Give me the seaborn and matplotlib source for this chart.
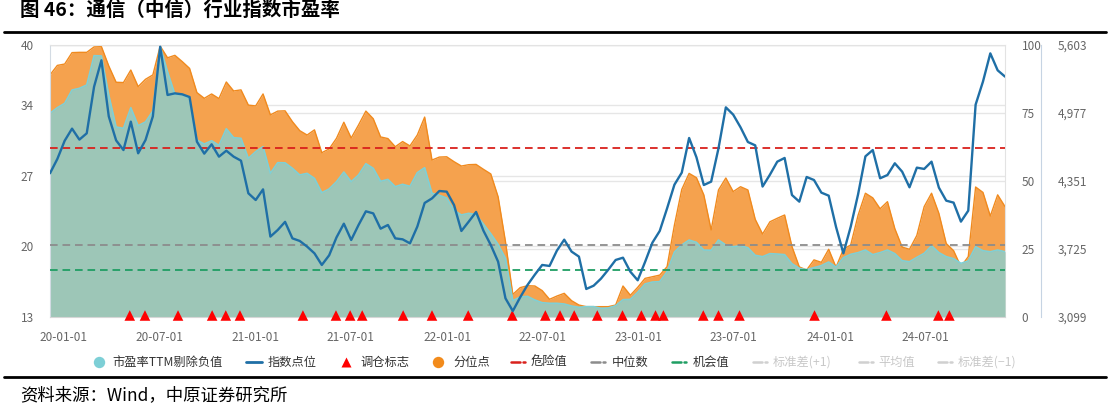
import numpy as np
import pandas as pd
import matplotlib
matplotlib.use('Agg')
import matplotlib.pyplot as plt
import matplotlib.dates as mdates
from matplotlib.lines import Line2D
import seaborn as sns

# ---------------- data ----------------
dates = pd.date_range('2019-12-06', periods=131, freq='14D')

pe_ttm = [33.22, 33.78, 34.21, 35.53, 35.70, 36.03, 38.94, 38.91, 35.04, 31.86,
          31.73, 33.78, 31.99, 32.36, 33.45, 39.84, 37.35, 35.10, 35.10, 34.71,
          30.57, 30.17, 30.50, 30.04, 31.69, 30.80, 30.74, 28.75, 29.41, 29.91,
          27.26, 28.32, 28.30, 27.76, 27.10, 27.26, 26.76, 25.34, 25.71, 26.43,
          27.39, 26.43, 27.10, 28.22, 27.76, 26.47, 26.66, 25.94, 26.17, 25.97,
          27.33, 27.82, 25.28, 25.08, 24.81, 23.59, 23.13, 23.29, 23.16, 22.23,
          21.27, 20.21, 18.82, 14.62, 14.99, 15.05, 14.69, 14.42, 14.36, 14.36,
          14.29, 14.09, 13.96, 14.03, 14.03, 13.86, 13.89, 14.12, 14.72, 14.75,
          15.45, 16.28, 16.47, 16.51, 17.50, 19.45, 20.15, 20.64, 20.41, 19.65,
          19.62, 20.64, 20.15, 19.98, 20.08, 19.88, 19.12, 18.99, 19.29, 19.25,
          19.19, 18.29, 17.83, 17.70, 17.90, 18.10, 18.46, 17.96, 18.89, 19.22,
          19.39, 19.65, 19.19, 19.39, 19.65, 19.29, 18.59, 18.49, 18.92, 19.32,
          20.08, 19.39, 18.99, 18.79, 18.33, 18.56, 19.98, 19.58, 19.48, 19.65,
          19.48]

percentile = [89.0, 92.5, 93.0, 97.2, 97.3, 97.3, 99.3, 99.4, 92.3, 86.3,
              86.2, 90.8, 84.7, 87.4, 89.0, 99.6, 95.3, 96.2, 93.9, 91.4,
              82.5, 80.4, 82.0, 80.3, 86.4, 83.1, 83.5, 77.9, 77.6, 82.0,
              74.3, 75.7, 75.8, 71.8, 68.5, 66.9, 68.8, 60.4, 61.8, 65.7,
              71.6, 65.8, 70.6, 75.7, 72.9, 66.2, 65.6, 62.6, 64.5, 62.9,
              66.9, 73.5, 57.7, 58.8, 58.9, 57.1, 55.5, 56.0, 56.1, 54.3,
              52.6, 44.2, 27.7, 8.3, 10.8, 11.5, 11.4, 9.7, 6.5, 7.7,
              8.7, 6.0, 4.4, 3.8, 3.8, 3.8, 3.8, 4.4, 11.4, 8.0,
              10.9, 14.2, 14.8, 15.4, 18.5, 33.8, 46.9, 52.8, 51.2, 44.9,
              32.0, 46.7, 51.1, 46.1, 47.9, 46.7, 35.9, 30.5, 35.0, 36.3,
              37.5, 25.9, 18.4, 17.3, 21.0, 20.1, 24.9, 18.3, 24.9, 26.5,
              37.4, 45.5, 43.8, 39.8, 42.4, 32.5, 25.7, 24.9, 30.0, 40.6,
              45.5, 38.1, 27.0, 24.4, 18.5, 22.2, 47.8, 45.8, 37.1, 44.9,
              40.6]

index_pts = [4422, 4554, 4722, 4833, 4732, 4790, 5219, 5462, 4946, 4725,
             4636, 4897, 4606, 4728, 4946, 5587, 5143, 5158, 5149, 5124,
             4713, 4603, 4689, 4575, 4630, 4575, 4538, 4238, 4176, 4274,
             3839, 3900, 3975, 3823, 3799, 3747, 3685, 3578, 3667, 3832,
             3958, 3808, 3946, 4072, 4053, 3912, 3946, 3823, 3814, 3777,
             3931, 4149, 4191, 4259, 4253, 4130, 3891, 3977, 4066, 3894,
             3762, 3608, 3271, 3154, 3280, 3394, 3489, 3578, 3569, 3710,
             3811, 3701, 3655, 3357, 3387, 3452, 3535, 3624, 3645, 3516,
             3437, 3605, 3783, 3891, 4099, 4317, 4428, 4747, 4569, 4314,
             4345, 4652, 5029, 4962, 4845, 4710, 4679, 4300, 4409, 4529,
             4563, 4222, 4161, 4388, 4360, 4244, 4216, 3928, 3685, 3931,
             4228, 4578, 4636, 4376, 4406, 4514, 4437, 4293, 4474, 4462,
             4529, 4290, 4170, 4152, 3977, 4078, 5054, 5266, 5526, 5370,
             5312]

signal_dates = ['2020-05-06', '2020-06-04', '2020-08-06', '2020-10-10', '2020-11-05',
                '2020-12-02', '2021-04-01', '2021-06-03', '2021-06-30', '2021-07-23',
                '2021-10-09', '2021-12-03', '2022-02-10', '2022-05-05', '2022-07-07',
                '2022-08-04', '2022-08-31', '2022-10-14', '2022-12-01', '2023-01-06',
                '2023-02-02', '2023-02-17', '2023-05-04', '2023-06-02', '2023-07-12',
                '2023-12-02', '2024-04-17', '2024-07-25', '2024-08-15']
signal_level = 13.15

danger_value = 29.8
median_value = 20.15
chance_value = 17.67

pe_ticks = [13, 20, 27, 34, 40]
pct_ticks = [0, 25, 50, 75, 100]
idx_ticks = [3099, 3725, 4351, 4977, 5603]
x_tick_dates = ['2020-01-01', '2020-07-01', '2021-01-01', '2021-07-01', '2022-01-01',
                '2022-07-01', '2023-01-01', '2023-07-01', '2024-01-01', '2024-07-01']

title = '图 46：通信（中信）行业指数市盈率'
source = '资料来源：Wind，中原证券研究所'

# ---------------- style ----------------
sns.set_style('white')
plt.rcParams['font.family'] = ['Noto Sans CJK SC', 'DejaVu Sans']
plt.rcParams['lines.scale_dashes'] = False
plt.rcParams['axes.unicode_minus'] = False

TEAL_FILL = '#9dc6b7'
TEAL_LINE = '#7fd0d6'
ORANGE_FILL = '#f5a24e'
ORANGE_LINE = '#f08a1e'
BLUE = '#1f6fa6'
RED = '#d9211c'
GREY = '#8c8c8c'
GREEN = '#1f9e63'
GRID = '#e6e6e6'
TICK_TXT = '#666666'

W, H = 1110, 409
fig = plt.figure(figsize=(W / 100, H / 100), dpi=100)
L, R, T, B = 50, 1005, 45, 317
ax = fig.add_axes([L / W, 1 - B / H, (R - L) / W, (B - T) / H])
ax2 = ax.twinx()
ax3 = ax.twinx()
ax2.set_zorder(1)
ax.set_zorder(2)
ax3.set_zorder(3)
ax.patch.set_visible(False)
ax3.patch.set_visible(False)
ax2.patch.set_facecolor('white')

df = pd.DataFrame({'date': dates, 'pe': pe_ttm, 'pct': percentile, 'idx': index_pts})
sig = pd.DataFrame({'date': pd.to_datetime(signal_dates), 'lvl': signal_level})

# gridlines (bottom layer)
for v in pct_ticks[1:]:
    ax2.axhline(v, color=GRID, lw=1.0, zorder=0)
for v in pe_ticks[1:]:
    ax2.axhline((v - pe_ticks[0]) / (pe_ticks[-1] - pe_ticks[0]) * 100, color=GRID, lw=1.0, zorder=0)

# percentile area
ax2.fill_between(df['date'], 0, df['pct'], color=ORANGE_FILL, lw=0, zorder=1)
sns.lineplot(data=df, x='date', y='pct', ax=ax2, color=ORANGE_LINE, lw=1.0, zorder=2)

# PE area
ax.fill_between(df['date'], pe_ticks[0], df['pe'], color=TEAL_FILL, lw=0, zorder=1)
sns.lineplot(data=df, x='date', y='pe', ax=ax, color=TEAL_LINE, lw=1.2, zorder=2)

# reference lines
for val, col in [(danger_value, RED), (median_value, GREY), (chance_value, GREEN)]:
    ax.axhline(val, color=col, lw=1.3, dashes=(5.5, 3.5), zorder=3)

# signals
sns.scatterplot(data=sig, x='date', y='lvl', ax=ax, marker='^', s=58, color='#ff0000',
                edgecolor='none', zorder=4, clip_on=False, legend=False)

# index line
sns.lineplot(data=df, x='date', y='idx', ax=ax3, color=BLUE, lw=1.7, zorder=5)

# axes limits & ticks
ax.set_xlim(df['date'].iloc[0], df['date'].iloc[-1])
ax.set_ylim(pe_ticks[0], pe_ticks[-1])
ax2.set_ylim(pct_ticks[0], pct_ticks[-1])
ax3.set_ylim(idx_ticks[0], idx_ticks[-1])

ax.set_yticks(pe_ticks)
ax2.set_yticks(pct_ticks)
ax3.set_yticks(idx_ticks)
ax3.set_yticklabels([f'{v:,}' for v in idx_ticks])
ax.set_xticks(pd.to_datetime(x_tick_dates))
ax.xaxis.set_major_formatter(mdates.DateFormatter('%y-%m-%d'))

for a in (ax, ax2, ax3):
    a.set_xlabel('')
    a.set_ylabel('')
    a.grid(False)

ax.tick_params(axis='y', length=0, pad=11.5, labelsize=8.5, labelcolor=TICK_TXT)
ax.tick_params(axis='x', length=4, width=0.8, color='#cccccc', pad=6, labelsize=8.5, labelcolor=TICK_TXT)
ax2.tick_params(axis='y', length=0, pad=12, labelsize=8.5, labelcolor=TICK_TXT)
ax3.tick_params(axis='y', length=0, pad=12, labelsize=8.5, labelcolor=TICK_TXT)

for a in (ax, ax2, ax3):
    for s in a.spines.values():
        s.set_visible(False)
ax.spines['left'].set_visible(True)
ax.spines['left'].set_color('#d3dbe3')
ax.spines['top'].set_visible(True)
ax.spines['top'].set_color('#e3e3e3')
ax.spines['bottom'].set_visible(True)
ax.spines['bottom'].set_color('#d6d6d6')
ax2.spines['right'].set_visible(True)
ax2.spines['right'].set_color('#e3e3e3')
ax3.spines['right'].set_visible(True)
ax3.spines['right'].set_position(('outward', 26))
ax3.spines['right'].set_color('#c6d4e3')

# ---------------- title / source ----------------
fig.text(20 / W, 1 - 10.5 / H, title, fontsize=14, fontweight='bold', va='center', ha='left', color='black')
fig.add_artist(Line2D([0.004, 0.996], [1 - 31.5 / H] * 2, color='black', lw=2.0))
fig.add_artist(Line2D([0.004, 0.996], [1 - 377 / H] * 2, color='black', lw=2.0))
fig.text(20 / W, 1 - 395 / H, source, fontsize=12.5, va='center', ha='left', color='black')

# ---------------- legend ----------------
def fx(px):
    return px / W

ly = 1 - 362 / H
LEG_TXT = '#333333'
OFF_TXT = '#c8c8c8'
fs = 8.8

def add_text(x, s, c=LEG_TXT):
    fig.text(fx(x), ly, s, fontsize=fs, color=c, va='center', ha='left')

def add_dashsym(x, c):
    fig.add_artist(Line2D([fx(x), fx(x + 9)], [ly, ly], color=c, lw=1.8))
    fig.add_artist(Line2D([fx(x + 11.5), fx(x + 13.5)], [ly, ly], color=c, lw=1.8))

fig.add_artist(Line2D([fx(99)], [ly], marker='o', ms=8.2, color='#7dcfd6', mec='none', ls='none'))
add_text(112, '市盈率TTM剔除负值')
fig.add_artist(Line2D([fx(246), fx(262)], [ly, ly], color=BLUE, lw=2.0))
add_text(268, '指数点位')
fig.add_artist(Line2D([fx(346)], [ly], marker='^', ms=7.0, color='#ff0000', mec='none', ls='none'))
add_text(360, '调仓标志')
fig.add_artist(Line2D([fx(438)], [ly], marker='o', ms=8.2, color='#f28b1c', mec='none', ls='none'))
add_text(453, '分位点')
add_dashsym(511, RED)
add_text(531, '危险值')
add_dashsym(591, GREY)
add_text(612, '中位数')
add_dashsym(672, GREEN)
add_text(693, '机会值')
add_dashsym(753, '#d0d0d0')
add_text(773, '标准差(+1)', OFF_TXT)
add_dashsym(859, '#d0d0d0')
add_text(878, '平均值', OFF_TXT)
add_dashsym(938, '#d0d0d0')
add_text(958, '标准差(−1)', OFF_TXT)

fig.savefig('out.png', dpi=100)
